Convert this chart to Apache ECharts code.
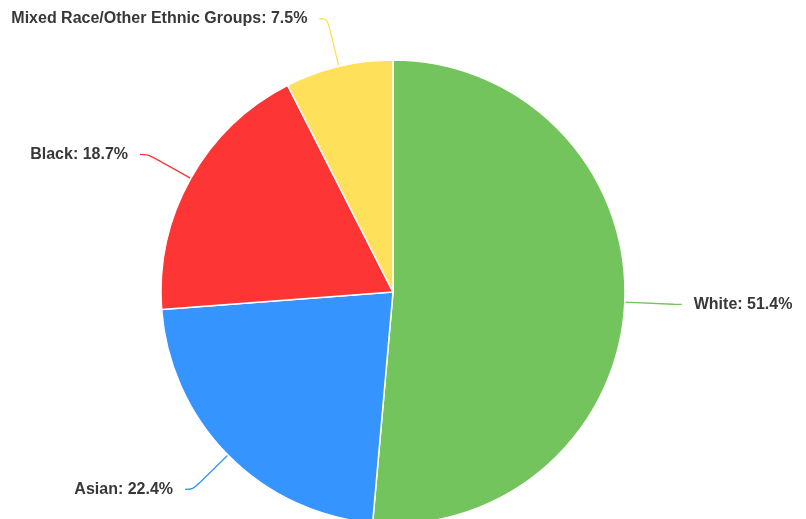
<!DOCTYPE html>
<html>
<head>
<meta charset="utf-8">
<script src="https://cdn.jsdelivr.net/npm/echarts@6/dist/echarts.min.js"></script>
<style>
  html, body { margin: 0; padding: 0; background: #fff; }
  #chart { width: 806px; height: 519px; }
</style>
</head>
<body>
<div id="chart"></div>
<script>
// Ethnic group shares (percent), clockwise from 12 o'clock
const groups = ['White', 'Asian', 'Black', 'Mixed Race/Other Ethnic Groups'];
const shares = [51.4, 22.4, 18.7, 7.5];
const colors = ['#73c45c', '#3594fd', '#fe3535', '#ffe05a'];

const chart = echarts.init(document.getElementById('chart'), null, { renderer: 'canvas' });

chart.setOption({
  animation: false,
  series: [{
    type: 'pie',
    center: [393, 292],
    radius: 232,
    startAngle: 90,
    clockwise: true,
    data: groups.map((g, i) => ({
      name: g,
      value: shares[i],
      itemStyle: { color: colors[i] }
    })),
    itemStyle: { borderColor: '#fff', borderWidth: 1.5 },
    label: {
      show: true,
      formatter: p => p.name + ': ' + p.value + '%',
      fontFamily: 'Liberation Sans, Arial, sans-serif',
      fontSize: 16,
      fontWeight: 'bold',
      color: '#383838',
      distanceToLabelLine: 12
    },
    labelLine: {
      show: true,
      smooth: 0.4,
      length: 49,
      length2: 8,
      lineStyle: { width: 1.3 }
    }
  }]
});
</script>
</body>
</html>
